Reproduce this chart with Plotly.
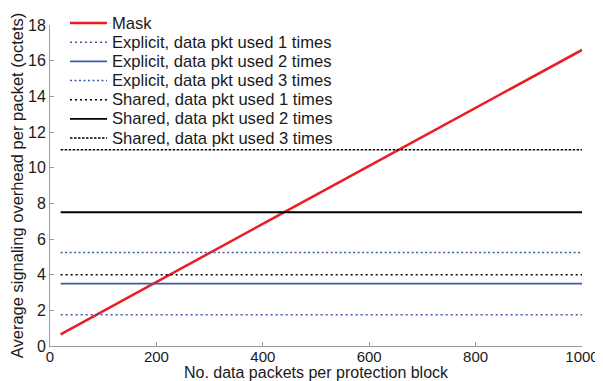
import plotly.graph_objects as go

# ---- data ----
x_span = [20, 1000]
mask_x = [20, 200, 400, 600, 800, 1000]
mask_y = [0.65, 3.6, 6.85, 10.1, 13.35, 16.6]

series_names = [
    "Mask",
    "Explicit, data pkt used 1 times",
    "Explicit, data pkt used 2 times",
    "Explicit, data pkt used 3 times",
    "Shared, data pkt used 1 times",
    "Shared, data pkt used 2 times",
    "Shared, data pkt used 3 times",
]
explicit_1 = [1.75, 1.75]
explicit_2 = [3.5, 3.5]
explicit_3 = [5.25, 5.25]
shared_1 = [4.0, 4.0]
shared_2 = [7.5, 7.5]
shared_3 = [11.0, 11.0]

x_ticks = [0, 200, 400, 600, 800, 1000]
y_ticks = [0, 2, 4, 6, 8, 10, 12, 14, 16, 18]

RED = "#ec1c24"
BLUE = "#3d5aa5"
BLACK = "#000000"
FONT = "Liberation Sans, Arial, sans-serif"
TXT = "#1a1a1a"

styles = [
    dict(color=RED, width=2.5, dash="solid"),
    dict(color=BLUE, width=1.5, dash="2px,3px"),
    dict(color=BLUE, width=1.8, dash="solid"),
    dict(color=BLUE, width=1.5, dash="2px,2.5px"),
    dict(color=BLACK, width=1.5, dash="2px,3px"),
    dict(color=BLACK, width=1.8, dash="solid"),
    dict(color=BLACK, width=1.5, dash="2.5px,1.5px"),
]
ys = [mask_y, explicit_1, explicit_2, explicit_3, shared_1, shared_2, shared_3]
xs = [mask_x] + [x_span] * 6

fig = go.Figure()
for name, x, y, st in zip(series_names, xs, ys, styles):
    fig.add_trace(go.Scatter(x=x, y=y, mode="lines", name=name, line=st,
                             showlegend=False))

# ---- geometry (page has an 8px body margin) ----
OFF = 8
WIN_W, WIN_H = 603, 381
W, H = WIN_W - OFF, WIN_H - OFF
plot_l, plot_r, plot_t, plot_b = 50, 582, 25, 346   # window pixels
ml, mr = plot_l - OFF, WIN_W - plot_r
mt, mb = plot_t - OFF, WIN_H - plot_b
pw, ph = plot_r - plot_l, plot_b - plot_t

def px_x(p):
    return (p - plot_l) / pw

def px_y(p):
    return (plot_b - p) / ph

# ---- compact legend (drawn as shapes + text) ----
for i, (name, st) in enumerate(zip(series_names, styles)):
    yy = 23 + 19.17 * i
    fig.add_shape(type="line", xref="paper", yref="paper",
                  x0=px_x(70), x1=px_x(107), y0=px_y(yy), y1=px_y(yy),
                  line=dict(color=st["color"], width=st["width"], dash=st["dash"]))
    fig.add_annotation(xref="paper", yref="paper", x=px_x(110), y=px_y(yy),
                       xanchor="left", yanchor="middle", showarrow=False,
                       text=name, font=dict(family=FONT, size=16.6, color=TXT))

axis_common = dict(
    showgrid=False, zeroline=False, showline=True, linecolor="#9a9a9a",
    linewidth=1, ticks="inside", ticklen=4, tickcolor="#9a9a9a",
)

fig.update_layout(
    width=W, height=H,
    margin=dict(l=ml, r=mr, t=mt, b=mb, autoexpand=False),
    paper_bgcolor="white", plot_bgcolor="white",
    font=dict(family=FONT, size=16, color=TXT),
    xaxis=dict(range=[0, 1000], tickvals=x_ticks, ticklabelstandoff=-3,
               tickfont=dict(family=FONT, size=15, color=TXT),
               title=dict(text="No. data packets per protection block",
                          font=dict(family=FONT, size=16, color=TXT), standoff=6),
               **axis_common),
    yaxis=dict(range=[0, 18], tickvals=y_ticks,
               tickfont=dict(family=FONT, size=16, color=TXT),
               title=dict(text="Average signaling overhead per packet (octets)",
                          font=dict(family=FONT, size=16.5, color=TXT), standoff=0),
               **axis_common),
)

fig.write_html("out.html")
